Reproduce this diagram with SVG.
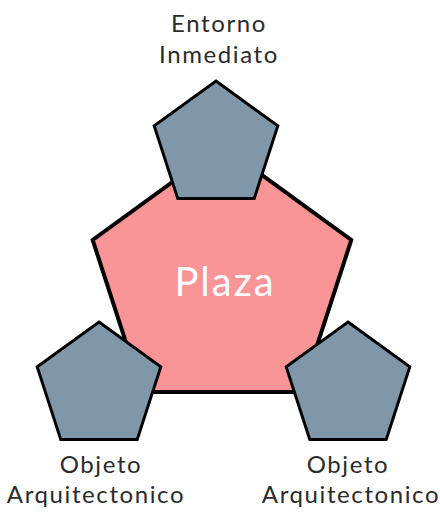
<svg xmlns="http://www.w3.org/2000/svg" width="440" height="515" viewBox="0 0 440 515">
<style>
.big{fill:#F99497;stroke:#000;stroke-width:4;stroke-linejoin:miter}
.small{fill:#7F97A9;stroke:#000;stroke-width:3;stroke-linejoin:miter}
.lbl{font-family:Lato,"Noto Sans",sans-serif;font-size:24px;fill:#2b2b2b;text-anchor:middle;letter-spacing:1.6px}
.center{font-family:Lato,"Noto Sans",sans-serif;font-size:40px;fill:#fff;text-anchor:middle;letter-spacing:2px}
</style>
<rect width="440" height="515" fill="#fff"/>
<g id="connectors"/>
<g id="plaza">
<polygon class="big" points="222,146 351.3,240 301.9,392 142.1,392 92.7,240"/>
<text class="center" x="225" y="296">Plaza</text>
</g>
<g id="entorno">
<polygon class="small" points="216,81 277.8,125.9 254.2,198.6 177.8,198.6 154.2,125.9"/>
<text class="lbl" x="219" y="32">Entorno</text>
<text class="lbl" x="219" y="63">Inmediato</text>
</g>
<g id="objeto-izq">
<polygon class="small" points="99,322 160.8,366.9 137.2,439.6 60.8,439.6 37.2,366.9"/>
<text class="lbl" x="101" y="473">Objeto</text>
<text class="lbl" x="96" y="503">Arquitectonico</text>
</g>
<g id="objeto-der">
<polygon class="small" points="348,322 409.8,366.9 386.2,439.6 309.8,439.6 286.2,366.9"/>
<text class="lbl" x="348" y="473">Objeto</text>
<text class="lbl" x="351" y="503">Arquitectonico</text>
</g>
</svg>
